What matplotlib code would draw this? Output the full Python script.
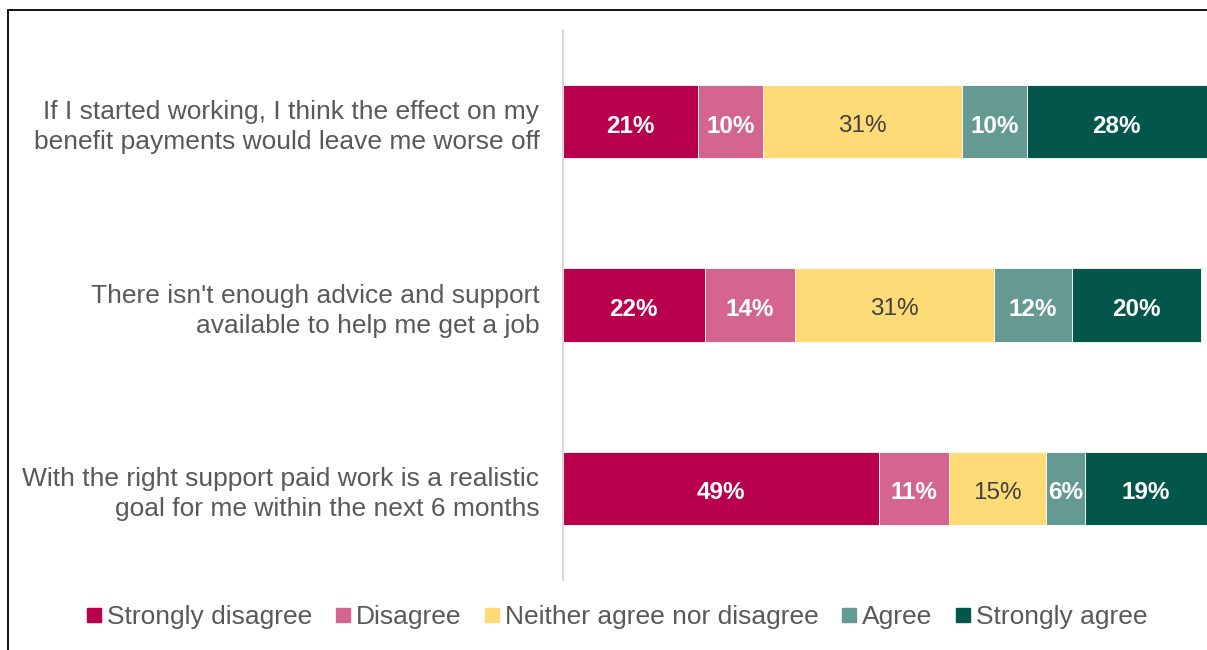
import matplotlib
matplotlib.use("Agg")
import matplotlib.pyplot as plt
from matplotlib.patches import Rectangle
from matplotlib.lines import Line2D

plt.rcParams['font.family'] = ['Liberation Sans', 'DejaVu Sans']

statements = [
    "If I started working, I think the effect on my\nbenefit payments would leave me worse off",
    "There isn't enough advice and support\navailable to help me get a job",
    "With the right support paid work is a realistic\ngoal for me within the next 6 months",
]
responses = ["Strongly disagree", "Disagree", "Neither agree nor disagree",
             "Agree", "Strongly agree"]
strongly_disagree = [21, 22, 49]
disagree = [10, 14, 11]
neither = [31, 31, 15]
agree = [10, 12, 6]
strongly_agree = [28, 20, 19]

series = [strongly_disagree, disagree, neither, agree, strongly_agree]
colors = ["#B8004C", "#D4658F", "#FFDB78", "#659A93", "#02574A"]
label_colors = ["white", "white", "#404040", "white", "white"]
label_weights = ["bold", "bold", "normal", "bold", "bold"]

W, H = 1207, 650
fig = plt.figure(figsize=(W / 100, H / 100), dpi=100)
ax = fig.add_axes([563 / W, 1 - 580 / H, 1 - 563 / W, 550 / H])

ypos = list(range(len(statements)))
left = [0.0] * len(statements)
for vals, col, tcol, tw in zip(series, colors, label_colors, label_weights):
    bars = ax.barh(ypos, vals, left=left, height=0.4, color=col,
                   edgecolor="white", linewidth=0.6)
    for b, v in zip(bars, vals):
        ax.text(b.get_x() + b.get_width() / 2, b.get_y() + b.get_height() / 2 + 0.01,
                f"{v}%", ha="center", va="center_baseline", color=tcol,
                fontsize=17.5, fontweight=tw)
    left = [l + v for l, v in zip(left, vals)]

ax.set_xlim(0, 100)
ax.set_ylim(len(statements) - 0.5, -0.5)
ax.set_yticks(ypos)
ax.set_yticklabels(statements, fontsize=19, color="#595959",
                   linespacing=1.32)
ax.tick_params(axis="y", length=0, pad=17)
ax.set_xticks([])
for s in ["top", "right", "bottom"]:
    ax.spines[s].set_visible(False)
ax.spines["left"].set_color("#D9D9D9")
ax.spines["left"].set_linewidth(1.5)

handles = [Line2D([], [], marker="s", linestyle="none", markersize=10,
                  markerfacecolor=c, markeredgecolor=c) for c in colors]
fig.legend(handles, responses, loc="center", bbox_to_anchor=(614 / W, 1 - 617 / H),
           ncol=5, frameon=False, fontsize=19, labelcolor="#595959",
           handletextpad=0.0, columnspacing=0.65, handlelength=1.0)

fig.patches.append(Rectangle((8 / W, -0.1), 1.2, 1.1 - 10 / H, transform=fig.transFigure,
                             fill=False, edgecolor="black", linewidth=1.3, zorder=10))

fig.savefig("out.png", dpi=100)
